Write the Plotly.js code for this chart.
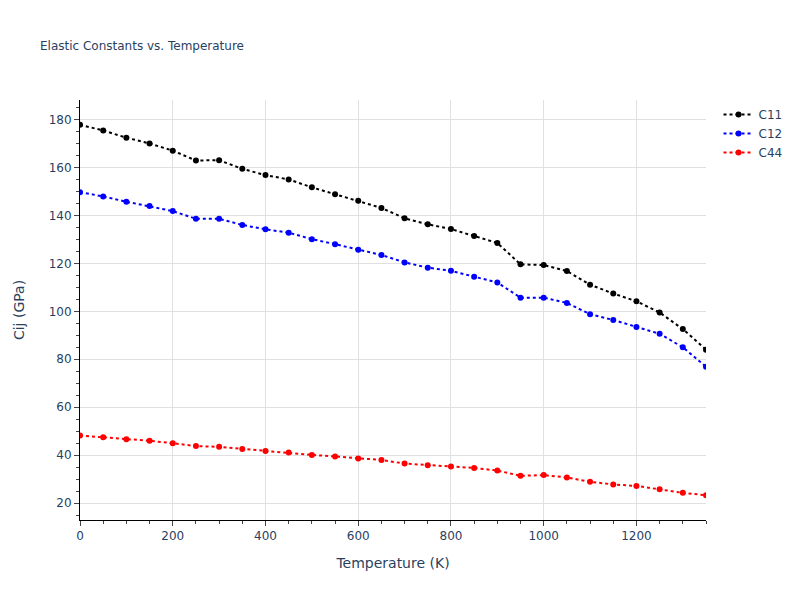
<!DOCTYPE html>
<html>
<head>
<meta charset="utf-8">
<script src="https://cdn.plot.ly/plotly-3.0.1.min.js"></script>
<style>html,body{margin:0;padding:0;background:#fff;}#chart{width:800px;height:600px;}</style>
</head>
<body>
<div id="chart"></div>
<script>
const temperature = [0,50,100,150,200,250,300,350,400,450,500,550,600,650,700,750,800,850,900,950,1000,1050,1100,1150,1200,1250,1300,1350];
const c11 = [177.8,175.4,172.4,170.0,167.0,162.9,163.0,159.4,156.8,155.0,151.7,148.8,146.1,143.1,138.8,136.3,134.3,131.4,128.5,119.6,119.3,116.8,111.1,107.4,104.2,99.5,92.6,84.0];
const c12 = [149.7,147.9,145.7,143.9,141.8,138.6,138.6,136.0,134.2,132.8,130.1,128.0,125.7,123.5,120.4,118.2,116.9,114.4,112.0,105.7,105.7,103.5,98.8,96.4,93.5,90.6,85.0,76.9];
const c44 = [48.2,47.5,46.7,46.0,45.0,43.8,43.5,42.6,41.8,41.1,40.1,39.5,38.6,38.0,36.5,35.8,35.3,34.7,33.6,31.4,31.7,30.7,28.9,27.8,27.2,25.8,24.3,23.3];
const seriesNames = ['C11','C12','C44'];
const seriesColors = ['black','blue','red'];
const seriesValues = [c11, c12, c44];

const traces = seriesValues.map((vals, i) => ({
  x: temperature,
  y: vals,
  name: seriesNames[i],
  type: 'scatter',
  mode: 'lines+markers',
  line: {color: seriesColors[i], dash: 'dot', width: 2},
  marker: {color: seriesColors[i], size: 6}
}));

const axisCommon = {
  showline: true,
  linecolor: 'black',
  linewidth: 1,
  ticks: 'outside',
  tickcolor: '#444',
  ticklen: 5,
  showgrid: true,
  gridcolor: '#E0E0E0',
  zeroline: false
};

const layout = {
  template: 'plotly_white',
  width: 800,
  height: 600,
  paper_bgcolor: 'white',
  plot_bgcolor: 'white',
  font: {family: '"DejaVu Sans", verdana, arial, sans-serif', color: '#2a3f5f', size: 12},
  title: {text: 'Elastic Constants vs. Temperature', font: {size: 12}, x: 0.05, xanchor: 'left'},
  xaxis: Object.assign({}, axisCommon, {
    title: {text: 'Temperature (K)', font: {size: 14}, standoff: 15},
    range: [0, 1350],
    dtick: 200,
    minor: {ticks: 'outside', ticklen: 3, tickcolor: '#444', dtick: 50, showgrid: false}
  }),
  yaxis: Object.assign({}, axisCommon, {
    title: {text: 'Cij (GPa)', font: {size: 14}, standoff: 20},
    dtick: 20,
    minor: {ticks: 'outside', ticklen: 3, tickcolor: '#444', dtick: 5, showgrid: false}
  }),
  legend: {font: {size: 12}},
  margin: {l: 80, r: 80, t: 100, b: 80}
};

Plotly.newPlot('chart', traces, layout, {displayModeBar: false});
</script>
</body>
</html>
